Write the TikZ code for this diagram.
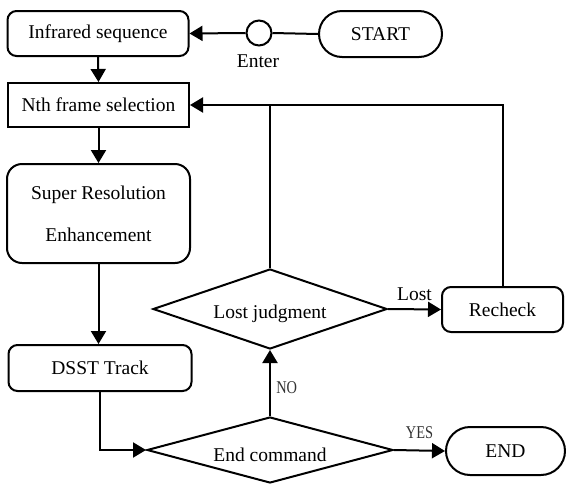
\documentclass[tikz,border=0pt]{standalone}
\usepackage{fontspec}
\setmainfont{Liberation Serif}
\usetikzlibrary{arrows.meta,shapes.geometric}
\tikzset{
  txt/.style={font=\fontsize{19.5}{23}\selectfont},
  rbox/.style={txt, draw, line width=2pt, rounded corners=9pt, inner sep=0pt},
  sbox/.style={txt, draw, line width=2pt, inner sep=0pt},
  term/.style={txt, draw, line width=2pt, rounded corners=23pt, inner sep=0pt},
  dia/.style={txt, draw, line width=2pt, diamond, inner sep=0pt},
  conn/.style={line width=2pt},
  arr/.style={line width=2pt, -{Triangle[length=13pt,width=15pt]}},
  lbl/.style={txt},
  yn/.style={font=\fontsize{18}{22}\selectfont, text=black!80}
}
\begin{document}
\begin{tikzpicture}[x=1pt,y=-1pt]
\useasboundingbox (0,0) rectangle (566,483);
% nodes
\node[rbox, minimum width=181pt, minimum height=45pt] (inf) at (98,33.5) {Infrared sequence};
\node[term, minimum width=123pt, minimum height=46pt] (start) at (380.5,34) {START};
\node[draw, circle, line width=2pt, minimum size=25pt, inner sep=0pt] (circ) at (259,33) {};
\node[lbl] (enter) at (258,61) {Enter};
\node[sbox, minimum width=181pt, minimum height=44pt] (nth) at (98.5,105) {Nth frame selection};
\node[rbox, rounded corners=15pt, minimum width=183pt, minimum height=99pt, align=center,
      font=\fontsize{19.5}{42}\selectfont] (sr) at (98.5,213.5) {Super Resolution\\Enhancement};
\node[rbox, minimum width=183pt, minimum height=46pt] (dsst) at (100,368) {DSST Track};
\node[dia, aspect=2.9, minimum width=234pt, minimum height=80pt] (lj) at (270,309) {\makebox[0pt]{\raisebox{-9.5pt}[0pt][0pt]{Lost judgment}}};
\node[dia, aspect=3.7, minimum width=246pt, minimum height=66pt] (ec) at (270,450) {\makebox[0pt]{\raisebox{-11.5pt}[0pt][0pt]{End command}}};
\node[rbox, minimum width=121pt, minimum height=45pt] (rc) at (502.5,309.5) {Recheck};
\node[term, rounded corners=24pt, minimum width=119pt, minimum height=48pt] (endn) at (505.5,451) {END};
% connectors
\draw[conn] (start.west) -- (circ.east);
\draw[arr] (circ.west) -- (inf.east);
\draw[arr] (inf.south) -- (nth.north);
\draw[arr] (nth.south) -- (sr.north);
\draw[arr] (sr.south) -- (sr.south |- dsst.north);
\draw[arr] (dsst.south) |- (ec.west);
\draw[arr] (ec.north) -- node[yn, right, xshift=2pt, yshift=-4.5pt] {\scalebox{0.8}[1]{NO}} (lj.south);
\draw[arr] (ec.east) -- node[yn, above, yshift=7pt] {\scalebox{0.8}[1]{YES}} (endn.west);
\draw[arr] (lj.east) -- node[lbl, above, yshift=4pt] {Lost} (rc.west);
\draw[arr] (rc.north) |- (nth.east);
\draw[conn] (lj.north) -- (lj.north |- nth.east);
\end{tikzpicture}
\end{document}
